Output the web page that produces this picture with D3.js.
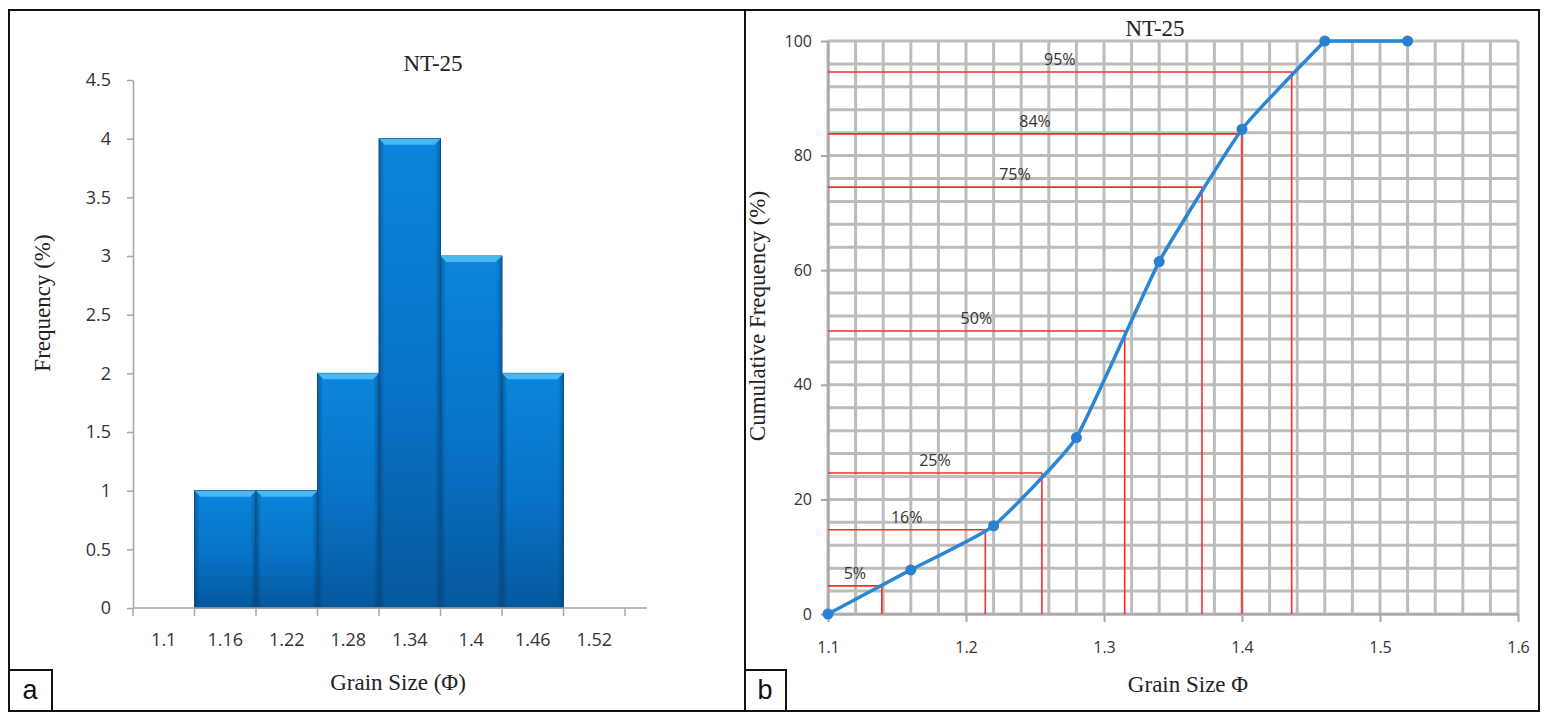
<!DOCTYPE html>
<html>
<head>
<meta charset="utf-8">
<script src="https://cdn.jsdelivr.net/npm/d3@7"></script>
<style>
  body { margin: 0; background: #fff; }
  svg { display: block; }
</style>
</head>
<body>
<div id="chart"></div>
<script>
// panel a: histogram
const sizeCats = ['1.1', '1.16', '1.22', '1.28', '1.34', '1.4', '1.46', '1.52'];
const freqValues = [0, 1, 1, 2, 4, 3, 2, 0];
const freqTicks = [0, 0.5, 1, 1.5, 2, 2.5, 3, 3.5, 4, 4.5];

// panel b: cumulative curve
const cumX = [1.1, 1.16, 1.22, 1.28, 1.34, 1.4, 1.46, 1.52];
const cumY = [0, 7.7, 15.4, 30.8, 61.5, 84.6, 100, 100];
const cumXTicks = [1.1, 1.2, 1.3, 1.4, 1.5, 1.6];
const cumYTicks = [0, 20, 40, 60, 80, 100];

// percentile reading lines
const pctLabels = ['5%', '16%', '25%', '50%', '75%', '84%', '95%'];
const pctX = [1.139, 1.214, 1.255, 1.315, 1.371, 1.4, 1.436];
const pctY = [4.9, 14.7, 24.6, 49.4, 74.5, 83.8, 94.6];

const width = 1548, height = 722;
const serif = '"Liberation Serif", "Times New Roman", serif';
const sans = '"Open Sans", "Noto Sans", sans-serif';

const svg = d3.select('#chart').append('svg')
  .attr('width', width)
  .attr('height', height);

const defs = svg.append('defs');
const body = defs.append('linearGradient').attr('id', 'barBody')
  .attr('x1', 0).attr('y1', 0).attr('x2', 0).attr('y2', 1);
body.append('stop').attr('offset', '0%').attr('stop-color', '#0a86dc');
body.append('stop').attr('offset', '55%').attr('stop-color', '#0872c6');
body.append('stop').attr('offset', '100%').attr('stop-color', '#06589c');
const sides = defs.append('linearGradient').attr('id', 'barSides')
  .attr('x1', 0).attr('y1', 0).attr('x2', 1).attr('y2', 0);
sides.append('stop').attr('offset', '0%').attr('stop-color', '#03355f').attr('stop-opacity', 0.45);
sides.append('stop').attr('offset', '9%').attr('stop-color', '#03355f').attr('stop-opacity', 0);
sides.append('stop').attr('offset', '91%').attr('stop-color', '#03355f').attr('stop-opacity', 0);
sides.append('stop').attr('offset', '100%').attr('stop-color', '#03355f').attr('stop-opacity', 0.45);

// ---------- panel a ----------
const xa = d3.scaleBand()
  .domain(sizeCats)
  .range([133, 625])
  .padding(0);

const ya = d3.scaleLinear()
  .domain([0, 4.5])
  .range([608, 80]);

const bars = svg.append('g')
  .selectAll('g')
  .data(sizeCats.map((c, i) => ({ cat: c, f: freqValues[i] })).filter(d => d.f > 0))
  .join('g');

bars.append('rect')
  .attr('x', d => xa(d.cat))
  .attr('y', d => ya(d.f))
  .attr('width', xa.bandwidth())
  .attr('height', d => ya(0) - ya(d.f))
  .attr('fill', 'url(#barBody)');

bars.append('rect')
  .attr('x', d => xa(d.cat))
  .attr('y', d => ya(d.f))
  .attr('width', xa.bandwidth())
  .attr('height', d => ya(0) - ya(d.f))
  .attr('fill', 'url(#barSides)')
  .attr('stroke', '#0a4f88')
  .attr('stroke-width', 1);

// light bevel on top of each bar
bars.append('polygon')
  .attr('points', d => {
    const x0 = xa(d.cat), x1 = x0 + xa.bandwidth(), y0 = ya(d.f);
    return [[x0, y0], [x1, y0], [x1 - 6, y0 + 6], [x0 + 6, y0 + 6]].join(' ');
  })
  .attr('fill', '#4ab6f2');

// y axis
svg.append('g')
  .attr('transform', 'translate(133,0)')
  .call(d3.axisLeft(ya).tickValues(freqTicks).tickFormat(d => String(d))
    .tickSize(6).tickSizeOuter(0).tickPadding(16))
  .call(g => g.selectAll('path, line').attr('stroke', '#a6a6a6').attr('stroke-width', 1.5))
  .call(g => g.selectAll('text')
    .attr('font-family', sans).attr('font-size', 18).attr('fill', '#333'));

// x axis with ticks between the categories
const xAxisA = svg.append('g');
xAxisA.append('line')
  .attr('x1', 133).attr('x2', 647)
  .attr('y1', ya(0)).attr('y2', ya(0))
  .attr('stroke', '#a6a6a6').attr('stroke-width', 1.5);
xAxisA.selectAll('line.tick')
  .data(sizeCats.map(c => xa(c)).concat([xa.range()[1]]))
  .join('line')
  .attr('class', 'tick')
  .attr('x1', d => d).attr('x2', d => d)
  .attr('y1', ya(0)).attr('y2', ya(0) + 8)
  .attr('stroke', '#a6a6a6').attr('stroke-width', 1.5);
xAxisA.selectAll('text')
  .data(sizeCats)
  .join('text')
  .attr('x', d => xa(d) + xa.bandwidth() / 2)
  .attr('y', 646)
  .attr('text-anchor', 'middle')
  .attr('font-family', sans).attr('font-size', 18).attr('fill', '#333')
  .text(d => d);

svg.append('text')
  .attr('x', 433).attr('y', 71)
  .attr('text-anchor', 'middle')
  .attr('font-family', serif).attr('font-size', 23).attr('fill', '#222')
  .text('NT-25');

svg.append('text')
  .attr('x', 398).attr('y', 690)
  .attr('text-anchor', 'middle')
  .attr('font-family', serif).attr('font-size', 23).attr('fill', '#222')
  .text('Grain Size (Φ)');

svg.append('text')
  .attr('transform', 'translate(50,303) rotate(-90)')
  .attr('text-anchor', 'middle')
  .attr('font-family', serif).attr('font-size', 23).attr('fill', '#222')
  .text('Frequency (%)');

// ---------- panel b ----------
const xb = d3.scaleLinear()
  .domain([1.1, 1.6])
  .range([828, 1518]);

const yb = d3.scaleLinear()
  .domain([0, 100])
  .range([614, 41]);

const grid = svg.append('g')
  .attr('stroke', '#bcbcbc')
  .attr('stroke-width', 3);

grid.selectAll('line.v')
  .data(d3.range(0, 26).map(i => 1.1 + i * 0.02))
  .join('line')
  .attr('class', 'v')
  .attr('x1', d => xb(d)).attr('x2', d => xb(d))
  .attr('y1', yb(0)).attr('y2', yb(100));

grid.selectAll('line.h')
  .data(d3.range(0, 26).map(i => i * 4))
  .join('line')
  .attr('class', 'h')
  .attr('x1', xb(1.1)).attr('x2', xb(1.6))
  .attr('y1', d => yb(d)).attr('y2', d => yb(d));

// axes
svg.append('g')
  .attr('transform', `translate(${xb(1.1)},0)`)
  .call(d3.axisLeft(yb).tickValues(cumYTicks).tickSize(7).tickSizeOuter(0).tickPadding(9))
  .call(g => g.selectAll('path, line').attr('stroke', '#a6a6a6').attr('stroke-width', 2))
  .call(g => g.selectAll('text')
    .attr('font-family', sans).attr('font-size', 16).attr('fill', '#333'));

svg.append('g')
  .attr('transform', `translate(0,${yb(0)})`)
  .call(d3.axisBottom(xb).tickValues(cumXTicks).tickFormat(d3.format('.1f'))
    .tickSize(8).tickSizeOuter(0).tickPadding(20))
  .call(g => g.selectAll('path, line').attr('stroke', '#a6a6a6').attr('stroke-width', 2))
  .call(g => g.selectAll('text')
    .attr('font-family', sans).attr('font-size', 16).attr('fill', '#333'));

// percentile lines
const pct = svg.append('g')
  .selectAll('g')
  .data(pctLabels.map((l, i) => ({ label: l, x: pctX[i], y: pctY[i] })))
  .join('g');

pct.append('path')
  .attr('d', d => `M${xb(1.1)},${yb(d.y)}H${xb(d.x)}V${yb(0)}`)
  .attr('fill', 'none')
  .attr('stroke', '#ff2b2b')
  .attr('stroke-width', 1.6);

pct.append('text')
  .attr('x', d => (xb(1.1) + xb(d.x)) / 2)
  .attr('y', d => yb(d.y) - 7)
  .attr('text-anchor', 'middle')
  .attr('font-family', sans).attr('font-size', 16).attr('fill', '#333')
  .text(d => d.label);

// cumulative curve: smoothed up to the 100% point, flat after it
const pts = cumX.map((x, i) => [x, cumY[i]]);
const topIdx = cumY.indexOf(100);
const curveLine = d3.line().x(d => xb(d[0])).y(d => yb(d[1]));
svg.append('path')
  .attr('fill', 'none')
  .attr('stroke', '#2b87d6')
  .attr('stroke-width', 3.5)
  .attr('stroke-linejoin', 'round')
  .attr('d', curveLine.curve(d3.curveCardinal.tension(0.6))(pts.slice(0, topIdx + 1)) +
    d3.line().x(d => xb(d[0])).y(d => yb(d[1]))(pts.slice(topIdx)).replace('M', 'L'));

svg.append('g')
  .selectAll('circle')
  .data(pts)
  .join('circle')
  .attr('cx', d => xb(d[0]))
  .attr('cy', d => yb(d[1]))
  .attr('r', 5.5)
  .attr('fill', '#2a80d0');

svg.append('text')
  .attr('x', 1155).attr('y', 36)
  .attr('text-anchor', 'middle')
  .attr('font-family', serif).attr('font-size', 23).attr('fill', '#222')
  .text('NT-25');

svg.append('text')
  .attr('x', 1188).attr('y', 692)
  .attr('text-anchor', 'middle')
  .attr('font-family', serif).attr('font-size', 23).attr('fill', '#222')
  .text('Grain Size Φ');

svg.append('text')
  .attr('transform', 'translate(765,316) rotate(-90)')
  .attr('text-anchor', 'middle')
  .attr('font-family', serif).attr('font-size', 23).attr('fill', '#222')
  .text('Cumulative Frequency (%)');

// ---------- frame and panel letters ----------
const frame = svg.append('g')
  .attr('fill', 'none')
  .attr('stroke', '#111')
  .attr('stroke-width', 2);
frame.append('rect').attr('x', 9).attr('y', 10).attr('width', 1530).attr('height', 701);
frame.append('line').attr('x1', 745).attr('x2', 745).attr('y1', 10).attr('y2', 711);
frame.append('rect').attr('x', 9).attr('y', 670).attr('width', 43).attr('height', 41);
frame.append('rect').attr('x', 745).attr('y', 670).attr('width', 41).attr('height', 41);

svg.append('text')
  .attr('x', 30).attr('y', 699)
  .attr('text-anchor', 'middle')
  .attr('font-family', '"Liberation Sans", Arial, sans-serif').attr('font-size', 27)
  .attr('fill', '#111')
  .text('a');

svg.append('text')
  .attr('x', 765).attr('y', 699)
  .attr('text-anchor', 'middle')
  .attr('font-family', '"Liberation Sans", Arial, sans-serif').attr('font-size', 27)
  .attr('fill', '#111')
  .text('b');
</script>
</body>
</html>
